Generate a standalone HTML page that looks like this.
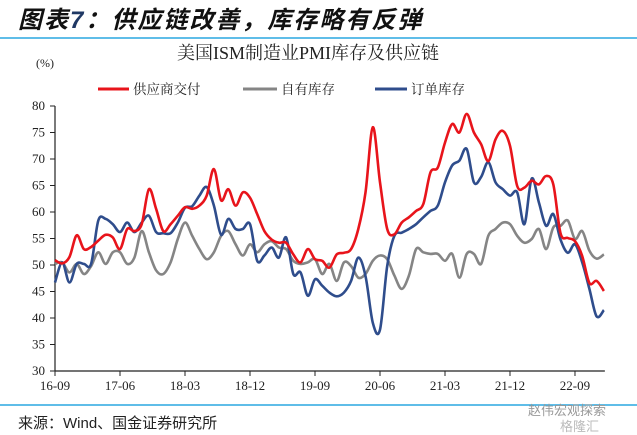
<!DOCTYPE html>
<html><head><meta charset="utf-8">
<style>
body{margin:0;background:#fff;}
#wrap{position:relative;width:637px;height:435px;overflow:hidden;background:#fff;font-family:"Liberation Serif","Noto Serif CJK SC",serif;}
</style></head>
<body>
<div id="wrap">
<svg id="chart" width="637" height="435" viewBox="0 0 637 435">
  <text x="18" y="28" font-family="'Liberation Sans','Noto Sans CJK SC',sans-serif" font-size="24" font-weight="bold" font-style="italic" letter-spacing="2" fill="#111">图表<tspan fill="#1f3864">7</tspan>：供应链改善，库存略有反弹</text>
  <line x1="0" y1="38" x2="637" y2="38" stroke="#2aa7e0" stroke-width="1.5"/>
  <text x="308" y="59" text-anchor="middle" font-size="18" fill="#222">美国ISM制造业PMI库存及供应链</text>
  <text x="45" y="67" text-anchor="middle" font-size="12" fill="#222">(%)</text>
  <g id="legend">
    <g><line x1="98" y1="89" x2="129" y2="89" stroke="#e8141b" stroke-width="3"/><text x="133" y="94" font-size="13.5" fill="#222">供应商交付</text></g>
    <g><line x1="243" y1="89" x2="277" y2="89" stroke="#858585" stroke-width="3"/><text x="281" y="94" font-size="13.5" fill="#222">自有库存</text></g>
    <g><line x1="375" y1="89" x2="407" y2="89" stroke="#2f4d8c" stroke-width="3"/><text x="411" y="94" font-size="13.5" fill="#222">订单库存</text></g>
  </g>
  <g id="axes"></g>
  <g id="series"></g>
  <line x1="0" y1="405" x2="637" y2="405" stroke="#2aa7e0" stroke-width="1.5"/>
  <text x="18" y="428" font-family="'Liberation Sans','Noto Sans CJK SC',sans-serif" font-size="15" fill="#222">来源：Wind、国金证券研究所</text>
  <text x="528" y="415" font-family="'Liberation Sans','Noto Sans CJK SC',sans-serif" font-size="13" fill="#999">赵伟宏观探索</text>
  <text x="560" y="431" font-family="'Liberation Sans','Noto Sans CJK SC',sans-serif" font-size="13" fill="#bbb">格隆汇</text>
</svg>
</div>
<script>
const startYear = 2016, startMonth = 9;
const xTickLabels = ["16-09","17-06","18-03","18-12","19-09","20-06","21-03","21-12","22-09"];
const yTicks = [30,35,40,45,50,55,60,65,70,75,80];
const supplierDeliveries = [50.9,50.3,51.5,55.6,53,53.4,54.6,55.7,55.2,53,56.8,56.4,57.7,64.3,60.6,56.4,57.7,59.3,60.9,60.6,61.2,63.1,68.1,62.2,64.3,61.2,63.7,62.7,59.6,56.4,54.8,54.2,54.2,52,50.5,53,51.1,50.8,49.5,52,52.3,53,56.8,63.7,76,65.6,56.8,55.8,58,59,60.2,61.5,67.5,68.4,73.1,76.6,75,78.5,75,72.8,69.6,73.7,75.3,72.5,64.9,64.6,65.9,65.2,66.8,65.2,56,55.1,54.5,51.7,46.6,47,45.1];
const ownInventory = [50.2,50.5,48.6,50.2,48.3,49.8,52.4,50.2,52.4,52.4,50.2,51.4,56.4,52.4,49,48.3,50.5,54.9,58,55.5,53,51.1,52.4,55.5,56.4,53.9,51.8,53.9,52.4,53.9,54.5,53.3,53,50.8,50.2,50.5,51.1,48.3,50.2,47,50.5,49.8,47.6,48.3,50.8,51.8,51.1,48,45.5,48,53,52.4,52.1,52.1,50.8,52.1,47.6,52.1,52.1,50.2,55.5,56.8,58,57.7,55.5,54.2,54.9,56.8,53,57.1,57.4,58.4,54.9,56.4,52.7,51.2,52];
const customerInventory = [46.7,50.5,46.7,50.2,50.2,50.2,58.4,58.7,57.7,56.2,58,56.2,58,59.3,56.2,56,56,58,60.8,61.1,63.1,64.7,61.2,55.7,58.7,56.8,56.8,57.7,50.8,51.8,53.3,51.4,55.2,48.3,48.6,44.2,47.3,46.1,44.8,44.1,44.8,47,51.4,47.9,39.1,37.8,49.8,55.5,56.1,56.8,57.7,59,60.2,61.2,65.6,68.8,69.7,71.9,65.6,66.6,69.4,65.6,64.3,63.1,63.7,57.7,66.3,61.8,57.4,59.6,54.8,52.3,53.9,50.5,45.5,40.3,41.5];

const NS="http://www.w3.org/2000/svg";
const X0=55, MPX=7.222, Y0=371, YMIN=30, YMAX=80, YTOP=106;
function xPos(i){return X0+MPX*i;}
function yPos(v){return Y0-(v-YMIN)*(Y0-YTOP)/(YMAX-YMIN);}
function mk(tag,attrs,parent){const e=document.createElementNS(NS,tag);for(const k in attrs)e.setAttribute(k,attrs[k]);parent.appendChild(e);return e;}
const axes=document.getElementById('axes');
const nPts=supplierDeliveries.length;
const yAxis=mk('line',{x1:X0,y1:YTOP,x2:X0,y2:Y0,stroke:'#222','stroke-width':1.2},axes);


yTicks.forEach(v=>{
  const t=mk('line',{x1:X0-5,y1:yPos(v),x2:X0,y2:yPos(v),stroke:'#222','stroke-width':1},axes);
  
  
  const l=mk('text',{x:X0-10,y:yPos(v)+4,'text-anchor':'end','font-size':13,fill:'#222'},axes);
  l.textContent=v;
  
  
});
const xAxis=mk('line',{x1:X0,y1:Y0,x2:xPos(nPts-1)+1,y2:Y0,stroke:'#222','stroke-width':1.2},axes);


xTickLabels.forEach((lab,k)=>{
  const x=xPos(k*9);
  const t=mk('line',{x1:x,y1:Y0,x2:x,y2:Y0+5,stroke:'#222','stroke-width':1},axes);
  
  
  const l=mk('text',{x:x,y:Y0+19,'text-anchor':'middle','font-size':13,fill:'#222'},axes);
  l.textContent=lab;
  
  
});
function smoothPath(vals){
  const p=vals.map((v,i)=>[xPos(i),yPos(v)]);
  let d='M'+p[0][0].toFixed(1)+','+p[0][1].toFixed(1);
  for(let i=0;i<p.length-1;i++){
    const p0=p[Math.max(0,i-1)],p1=p[i],p2=p[i+1],p3=p[Math.min(p.length-1,i+2)];
    const c1=[p1[0]+(p2[0]-p0[0])/6,p1[1]+(p2[1]-p0[1])/6];
    const c2=[p2[0]-(p3[0]-p1[0])/6,p2[1]-(p3[1]-p1[1])/6];
    d+=' C'+c1[0].toFixed(1)+','+c1[1].toFixed(1)+' '+c2[0].toFixed(1)+','+c2[1].toFixed(1)+' '+p2[0].toFixed(1)+','+p2[1].toFixed(1);
  }
  return d;
}
const sg=document.getElementById('series');
const s1=mk('path',{d:smoothPath(ownInventory),fill:'none',stroke:'#858585','stroke-width':2.6,'stroke-linejoin':'round'},sg);


const s2=mk('path',{d:smoothPath(customerInventory),fill:'none',stroke:'#2f4d8c','stroke-width':2.6,'stroke-linejoin':'round'},sg);


const s3=mk('path',{d:smoothPath(supplierDeliveries),fill:'none',stroke:'#e8141b','stroke-width':2.6,'stroke-linejoin':'round'},sg);


</script>
</body></html>
